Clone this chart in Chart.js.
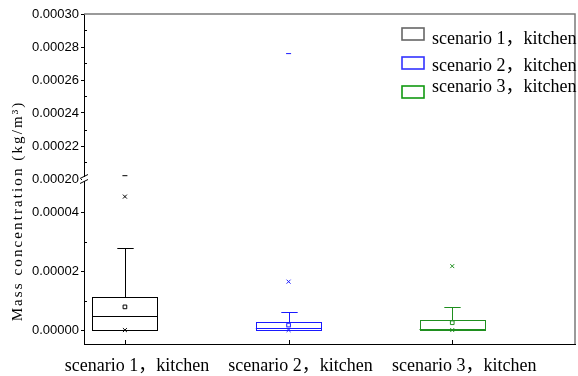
<!DOCTYPE html>
<html>
<head>
<meta charset="utf-8">
<script src="https://cdn.jsdelivr.net/npm/chart.js@4"></script>
<style>
  html, body { margin: 0; padding: 0; background: #fff; }
  #wrap { width: 578px; height: 376px; }
</style>
</head>
<body>
<div id="wrap"><canvas id="chart"></canvas></div>
<script>
// categories and box positions on the x axis
const categories = ['scenario 1，kitchen', 'scenario 2，kitchen', 'scenario 3，kitchen'];
const positions = [1, 2, 3];
const colors = ['#000000', '#1a1aff', '#1f8f1f'];
const legendColors = ['#666666', '#3333ff', '#119911'];

// box statistics (kg/m3)
const q1 = [0, 0, 0];
const median = [4.7e-6, 0.8e-6, 0.2e-6];
const q3 = [1.12e-5, 2.6e-6, 3.3e-6];
const whiskerLow = [0, 0, 0];
const whiskerHigh = [2.79e-5, 6.1e-6, 7.8e-6];
const means = [7.9e-6, 1.7e-6, 2.5e-6];
const p1 = [0, 0, 0];
const p99 = [4.55e-5, 1.65e-5, 2.18e-5];
const maxima = [0.000202, 0.000276, null];

// tick labels for the broken y axis
const lowTicks = [0, 0.00002, 0.00004];
const lowMinor = [0.00001, 0.00003];
const highTicks = [0.0002, 0.00022, 0.00024, 0.00026, 0.00028, 0.0003];
const highMinor = [0.00021, 0.00023, 0.00025, 0.00027, 0.00029];

const serif = "'Liberation Serif', 'Noto Sans CJK SC', serif";
const sans = "'Liberation Sans', sans-serif";

const datasets = [];
positions.forEach((p, i) => {
  datasets.push({label: 'mean' + i, data: [{x: p, y: means[i]}], pointStyle: 'rect', radius: 2.6,
    borderColor: colors[i], backgroundColor: 'transparent', borderWidth: 1, yAxisID: 'y'});
  datasets.push({label: 'pct' + i, data: [{x: p, y: p1[i]}, {x: p, y: p99[i]}], pointStyle: 'crossRot', radius: 2.8,
    borderColor: colors[i], borderWidth: 1, yAxisID: 'y'});
  if (maxima[i] !== null) {
    datasets.push({label: 'max' + i, data: [{x: p, y: maxima[i]}], pointStyle: 'line', radius: 2.5,
      borderColor: colors[i], borderWidth: 1, yAxisID: 'y2'});
  }
});

const boxPlugin = {
  id: 'boxes',
  beforeDatasetsDraw(chart) {
    const ctx = chart.ctx;
    const xs = chart.scales.x, ys = chart.scales.y;
    ctx.save();
    ctx.lineWidth = 1;
    positions.forEach((p, i) => {
      const cx = xs.getPixelForValue(p);
      const hw = xs.getPixelForValue(p + 0.2) - cx;
      const capW = xs.getPixelForValue(p + 0.05) - cx;
      const yTop = ys.getPixelForValue(q3[i]);
      const yBot = ys.getPixelForValue(q1[i]);
      ctx.strokeStyle = colors[i];
      ctx.strokeRect(Math.round(cx - hw) + 0.5, Math.round(yTop) + 0.5, Math.round(2 * hw), Math.round(yBot - yTop));
      // median
      ctx.beginPath();
      const ym = Math.round(ys.getPixelForValue(median[i])) + 0.5;
      ctx.moveTo(cx - hw, ym); ctx.lineTo(cx + hw, ym);
      // whiskers
      const yh = Math.round(ys.getPixelForValue(whiskerHigh[i])) + 0.5;
      const yl = Math.round(ys.getPixelForValue(whiskerLow[i])) + 0.5;
      const xc = Math.round(cx) + 0.5;
      ctx.moveTo(xc, yTop); ctx.lineTo(xc, yh);
      ctx.moveTo(xc - capW, yh); ctx.lineTo(xc + capW, yh);
      ctx.moveTo(xc, yBot); ctx.lineTo(xc, yl);
      ctx.stroke();
    });
    ctx.restore();
  },
  afterDraw(chart) {
    const ctx = chart.ctx;
    const ca = chart.chartArea;
    const xs = chart.scales.x;
    const ys = chart.scales.y, y2 = chart.scales.y2;
    ctx.save();
    // frame top and right
    ctx.strokeStyle = '#7a7a7a';
    ctx.lineWidth = 1.5;
    ctx.beginPath();
    ctx.moveTo(ca.left, ca.top); ctx.lineTo(ca.right, ca.top); ctx.lineTo(ca.right, ca.bottom);
    ctx.stroke();
    // minor ticks (inside)
    ctx.strokeStyle = '#000';
    ctx.lineWidth = 1;
    ctx.beginPath();
    lowMinor.forEach(v => { const y = Math.round(ys.getPixelForValue(v)) + 0.5; ctx.moveTo(ca.left, y); ctx.lineTo(ca.left + 3, y); });
    highMinor.forEach(v => { const y = Math.round(y2.getPixelForValue(v)) + 0.5; ctx.moveTo(ca.left, y); ctx.lineTo(ca.left + 3, y); });
    // x ticks (inside)
    positions.forEach(p => { const x = Math.round(xs.getPixelForValue(p)) + 0.5; ctx.moveTo(x, ca.bottom); ctx.lineTo(x, ca.bottom - 4); });
    ctx.stroke();
    // axis break
    const bY = y2.bottom;
    const ax = ca.left;
    ctx.fillStyle = '#fff';
    ctx.fillRect(ax - 2, bY - 2, 4, 4);
    ctx.beginPath();
    ctx.moveTo(ax - 4, bY - 0.5); ctx.lineTo(ax + 4, bY - 4.5);
    ctx.moveTo(ax - 4, bY + 4.5); ctx.lineTo(ax + 4, bY + 0.5);
    ctx.stroke();
    // y title
    ctx.fillStyle = '#000';
    ctx.font = '15px ' + serif;
    ctx.letterSpacing = '2.1px';
    ctx.textAlign = 'center';
    ctx.textBaseline = 'middle';
    ctx.translate(18, 211);
    ctx.rotate(-Math.PI / 2);
    ctx.fillText('Mass concentration (kg/m³)', 0, 0);
    ctx.restore();
    // legend
    ctx.save();
    ctx.font = '18px ' + serif;
    ctx.textAlign = 'left';
    ctx.textBaseline = 'alphabetic';
    const boxTops = [28, 57, 86];
    const baselines = [44, 70.5, 92];
    categories.forEach((c, i) => {
      ctx.strokeStyle = legendColors[i];
      ctx.lineWidth = 1.6;
      ctx.strokeRect(ca.right - 173, ca.top + boxTops[i] - 14, 22, 12);
      ctx.fillStyle = '#000';
      ctx.fillText(c, ca.right - 143, ca.top + baselines[i] - 14);
    });
    ctx.restore();
  }
};

new Chart(document.getElementById('chart'), {
  type: 'scatter',
  data: {datasets: datasets},
  plugins: [boxPlugin],
  options: {
    responsive: true,
    maintainAspectRatio: false,
    animation: false,
    layout: {autoPadding: false, padding: {top: 14, right: 3, left: 0, bottom: 0}},
    plugins: {legend: {display: false}, tooltip: {enabled: false}},
    scales: {
      x: {
        type: 'linear', min: 0.75, max: 3.75,
        afterBuildTicks: s => { s.ticks = positions.map(v => ({value: v})); },
        afterFit: s => { s.height = 32; },
        grid: {display: false, drawTicks: false},
        border: {display: true, color: '#000', width: 1},
        ticks: {
          padding: 11, labelOffset: 12, color: '#000', font: {family: serif, size: 18},
          maxRotation: 0, autoSkip: false,
          callback: (v, i) => categories[i]
        }
      },
      y: {
        type: 'linear', stack: 'ybreak', stackWeight: 1, position: 'left',
        min: -0.00000475, max: 0.0000515,
        afterBuildTicks: s => { s.ticks = lowTicks.map(v => ({value: v})); },
        afterFit: s => { s.width = 84; },
        grid: {drawOnChartArea: false, tickLength: 3, color: '#000'},
        border: {display: true, color: '#000', width: 1},
        ticks: {padding: 2, color: '#000', font: {family: sans, size: 13}, autoSkip: false,
          callback: v => v.toFixed(5)}
      },
      y2: {
        type: 'linear', stack: 'ybreak', stackWeight: 1, position: 'left',
        min: 0.0002, max: 0.0003,
        afterBuildTicks: s => { s.ticks = highTicks.map(v => ({value: v})); },
        afterFit: s => { s.width = 84; },
        grid: {drawOnChartArea: false, tickLength: 3, color: '#000'},
        border: {display: true, color: '#000', width: 1},
        ticks: {padding: 2, color: '#000', font: {family: sans, size: 13}, autoSkip: false,
          callback: v => v.toFixed(5)}
      }
    }
  }
});
</script>
</body>
</html>
